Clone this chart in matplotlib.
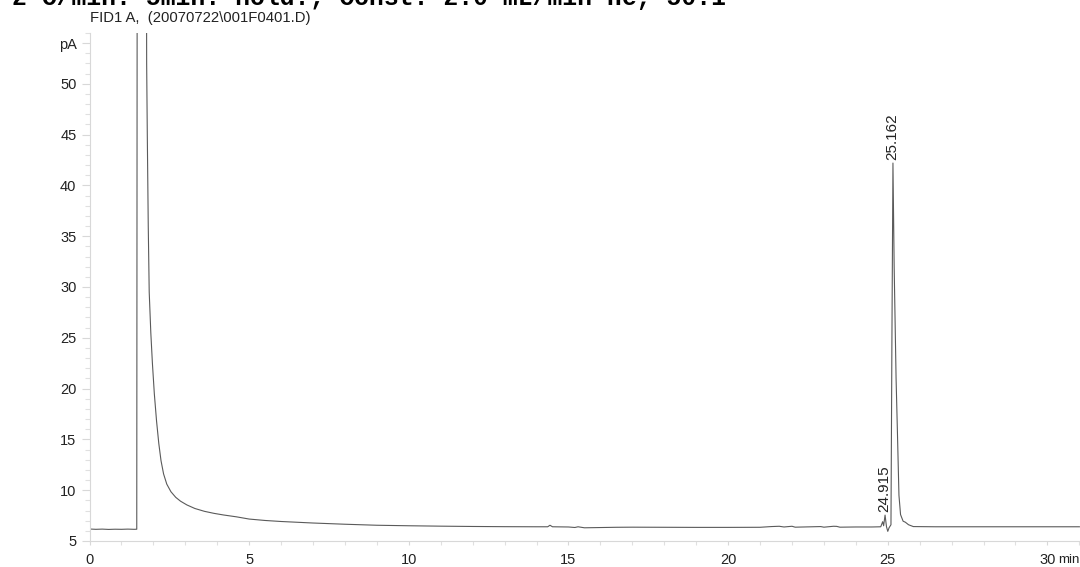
import matplotlib
matplotlib.use("Agg")
import matplotlib.pyplot as plt
from matplotlib.ticker import MultipleLocator

# FID1 A signal: retention time (min) and detector response (pA)
time_min = [0.00, 0.20, 0.40, 0.60, 0.80, 1.00, 1.20, 1.40, 1.48,
            1.495, 1.78, 1.79, 1.81, 1.84, 1.87, 1.92, 1.97, 2.03, 2.10,
            2.17, 2.24, 2.32, 2.42, 2.55, 2.70, 2.85, 3.05, 3.30, 3.60,
            3.90, 4.20, 4.60, 5.00, 5.50, 6.00, 7.00, 8.00, 9.00, 10.0,
            11.0, 12.0, 13.0, 14.0, 14.35, 14.42, 14.50, 15.0, 15.2, 15.3,
            15.5, 15.9, 16.5, 17.0, 18.0, 19.0, 20.0, 21.0, 21.35, 21.6,
            21.75, 22.0, 22.1, 22.9, 23.0, 23.3, 23.4, 23.5, 24.0, 24.5,
            24.78, 24.84, 24.87, 24.915, 24.96, 25.00, 25.04, 25.10, 25.13,
            25.162, 25.20, 25.26, 25.30, 25.35, 25.40, 25.48, 25.55, 25.65,
            25.80, 26.5, 27.0, 28.0, 29.0, 30.0, 31.0]
signal_pA = [6.18, 6.15, 6.17, 6.14, 6.16, 6.15, 6.17, 6.15, 6.16,
             70.0, 70.0, 52.0, 45.0, 36.0, 29.5, 25.5, 22.5, 19.5, 16.8,
             14.6, 12.9, 11.6, 10.6, 9.85, 9.30, 8.92, 8.55, 8.20, 7.92,
             7.72, 7.56, 7.38, 7.16, 7.02, 6.92, 6.77, 6.65, 6.55, 6.50,
             6.46, 6.43, 6.41, 6.40, 6.40, 6.55, 6.40, 6.38, 6.33, 6.40,
             6.30, 6.32, 6.35, 6.36, 6.35, 6.34, 6.34, 6.35, 6.42, 6.45,
             6.38, 6.45, 6.36, 6.42, 6.36, 6.45, 6.44, 6.36, 6.38, 6.38,
             6.40, 6.90, 6.50, 7.55, 6.40, 5.95, 6.30, 6.60, 25.0,
             42.2, 32.0, 21.0, 16.0, 9.5, 7.6, 6.95, 6.85, 6.60,
             6.42, 6.40, 6.40, 6.40, 6.40, 6.40, 6.40]

# Labelled peaks (retention time, apex height)
peak_times = [24.915, 25.162]
peak_heights = [7.55, 42.2]
peak_labels = ["24.915", "25.162"]

y_ticks = [5, 10, 15, 20, 25, 30, 35, 40, 45, 50, 54]
y_tick_labels = ["5", "10", "15", "20", "25", "30", "35", "40", "45", "50", "pA"]
x_ticks = [0, 5, 10, 15, 20, 25, 30]

W, H = 1080, 567
fig = plt.figure(figsize=(W / 100, H / 100), dpi=100)
plt.rcParams["font.family"] = ["Liberation Sans", "DejaVu Sans"]

x0, x1, y_top, y_bot = 89.5, 1080, 33, 541
ax = fig.add_axes([x0 / W, 1 - y_bot / H, (x1 - x0) / W, (y_bot - y_top) / H])

ax.plot(time_min, signal_pA, color="#5a5a5a", lw=0.8)
ax.set_xlim(0, 31.02)
ax.set_ylim(5, 55)

for side in ("top", "right"):
    ax.spines[side].set_visible(False)
for side in ("left", "bottom"):
    ax.spines[side].set_color("#d8d8d8")
    ax.spines[side].set_linewidth(0.8)

ax.set_xticks(x_ticks)
ax.xaxis.set_minor_locator(MultipleLocator(1))
ax.set_yticks(y_ticks)
ax.set_yticklabels(y_tick_labels)
ax.yaxis.set_minor_locator(MultipleLocator(1))

ax.tick_params(axis="y", which="major", length=5.8, width=0.8, color="#d8d8d8",
               pad=3.6, labelsize=10.5, labelcolor="#222222")
ax.tick_params(axis="y", which="minor", length=3.6, width=0.8, color="#e0e0e0")
ax.tick_params(axis="x", which="major", length=3.0, width=0.8, color="#d8d8d8",
               pad=6, labelsize=10.5, labelcolor="#222222")
ax.tick_params(axis="x", which="minor", length=3.0, width=0.8, color="#e0e0e0")

ax.annotate("min", xy=(30, 0), xycoords=("data", "axes fraction"),
            xytext=(7.5, -16.0), textcoords="offset points",
            ha="left", va="baseline", fontsize=9.5, color="#222222")

for t, h, lab in zip(peak_times, peak_heights, peak_labels):
    ax.annotate(lab, xy=(t, h), xytext=(-0.5, 2.5), textcoords="offset points",
                rotation=90, ha="center", va="bottom", fontsize=11,
                color="#222222")

fig.text(90 / W, 1 - 18 / H, "FID1 A,  (20070722\\001F0401.D)",
         ha="left", va="center", fontsize=10.7, color="#222222")

fig.text(11.7 / W, 1 - 5.5 / H, "2 C/min. 5min. hold.; Const. 2.0 mL/min He, 50:1",
         ha="left", va="baseline", fontsize=17.8, fontweight="bold",
         family=["Liberation Mono", "DejaVu Sans Mono"], color="black")

fig.savefig("out.png", dpi=100)
